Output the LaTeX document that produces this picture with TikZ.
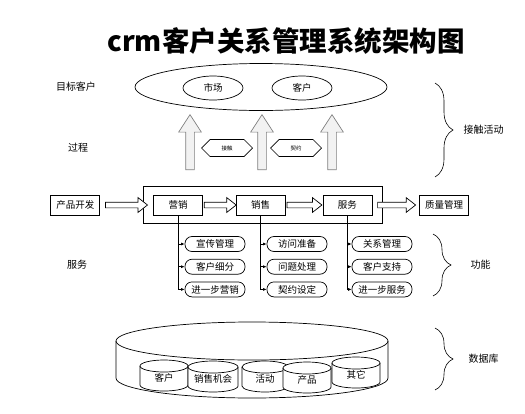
\documentclass[tikz,border=0pt]{standalone}
\usepackage{fontspec}
\setmainfont{Noto Sans CJK SC}
\usetikzlibrary{shapes.geometric,shapes.arrows,shapes.symbols,arrows.meta,positioning,fit,decorations.pathreplacing}

\begin{document}
\begin{tikzpicture}[
  x=1pt, y=-1pt,
  font=\fontsize{9.5}{11}\selectfont, >={Latex[length=3.5pt,width=3pt]},
  line width=0.7pt,
  box/.style     = {draw, fill=white, minimum width=49pt, minimum height=20pt,
                    inner sep=1pt},
  func/.style    = {draw, fill=white, rounded corners=7pt, minimum width=60pt,
                    minimum height=15pt, inner sep=1pt},
  oval/.style    = {draw, ellipse, minimum width=60pt, minimum height=24pt,
                    inner sep=1pt},
  hexa/.style    = {draw, fill=white, signal, signal to=west and east,
                    minimum width=51pt, minimum height=17pt, inner sep=1pt,
                    font=\fontsize{5.5}{6}\selectfont},
  uparrow/.style = {draw=gray, fill=gray!10, single arrow, shape border rotate=90,
                    minimum height=55pt, minimum width=22pt, inner sep=4pt,
                    single arrow head extend=7pt, single arrow tip angle=66},
  rarrow/.style  = {draw, fill=white, single arrow, minimum width=14pt,
                    inner sep=2.5pt, single arrow head extend=4.5pt,
                    single arrow tip angle=76},
  side/.style    = {font=\fontsize{10}{12}\selectfont},
  brc/.style     = {decorate, decoration={brace, amplitude=18pt}, line width=0.6pt}
]
\useasboundingbox (0,0) rectangle (525,413);

% title
\node[font=\fontsize{27.5}{30}\selectfont\bfseries] (title) at (286,41)
  {crm客户关系管理系统架构图};

% left labels
\node[side] (mbkh) at (76,87)  {目标客户};
\node[side] (gc)   at (78,148) {过程};
\node[side] (fwlb) at (77,265) {服务};

% target customers
\node[draw, ellipse, minimum width=252pt, minimum height=47pt] (target) at (261,87) {};
\node[oval] (sc) at (213,88) {市场};
\node[oval] (kh) at (302,88) {客户};

% process
\node[uparrow] (up1) at (190,145.5) {};
\node[uparrow] (up2) at (262,145.5) {};
\node[uparrow] (up3) at (332,145.5) {};
\node[hexa] (jc) at (227,148) {接触};
\node[hexa] (qy) at (296,148) {契约};

% main flow
\node[box] (yx) at (178,205) {营销};
\node[box, right=33pt of yx] (xs) {销售};
\node[box, right=37pt of xs] (fw) {服务};
\node[box, left=53pt of yx]  (cpkf) {产品开发};
\node[box, right=47pt of fw] (zlgl) {质量管理};
\node[draw, fit=(yx)(fw), inner xsep=10pt, inner ysep=8pt] (lc) {};

\node[rarrow, right=5pt of cpkf, minimum height=42pt] (a1) {};
\node[rarrow, right=1pt of yx,   minimum height=32pt] (a2) {};
\node[rarrow, right=1pt of xs,   minimum height=35pt] (a3) {};
\node[rarrow, right=5pt of fw,   minimum height=38pt] (a4) {};

% functions
\node[func] (c11) at (215,244) {宣传管理};
\node[func, below=7pt of c11] (c12) {客户细分};
\node[func, below=7pt of c12] (c13) {进一步营销};
\node[func] (c21) at (297,244) {访问准备};
\node[func, below=7pt of c21] (c22) {问题处理};
\node[func, below=7pt of c22] (c23) {契约设定};
\node[func] (c31) at (382,244) {关系管理};
\node[func, below=7pt of c31] (c32) {客户支持};
\node[func, below=7pt of c32] (c33) {进一步服务};

\foreach \b/\c in {yx/1, xs/2, fw/3}
  \foreach \r in {1,2,3}
    \draw[->] (\b.south) |- (c\c\r.west);

% braces
\draw[brc] (435,83) -- (435,177)
  node[side, midway, right=25pt] (jchd) {接触活动};
\draw[brc] (433,234) -- (433,296)
  node[side, midway, right=34pt] (gn) {功能};
\draw[brc] (435,328) -- (435,390)
  node[side, midway, right=30pt] (sjk) {数据库};

% database
\draw[fill=white] (116,341) -- (116,378)
  arc[start angle=180, end angle=360, x radius=136pt, y radius=20pt] -- (388,341);
\draw (252,341) ellipse[x radius=136pt, y radius=19pt];
\foreach \cx/\rx/\yt/\nm/\txt in {164/24/366/dkh/客户, 213/25/367/dxs/销售机会,
    265/23/367/dhd/活动, 307/24/368/dcp/产品, 356/24/363/dqt/其它} {
  \draw[fill=white] (\cx-\rx,\yt) -- (\cx-\rx,\yt+19)
    arc[start angle=180, end angle=360, x radius=\rx pt, y radius=6pt]
    -- (\cx+\rx,\yt)
    arc[start angle=0, end angle=180, x radius=\rx pt, y radius=6pt] -- cycle;
  \draw (\cx-\rx,\yt)
    arc[start angle=180, end angle=360, x radius=\rx pt, y radius=6pt];
  \node (\nm) at (\cx,\yt+12) {\txt};
}
\end{tikzpicture}
\end{document}
